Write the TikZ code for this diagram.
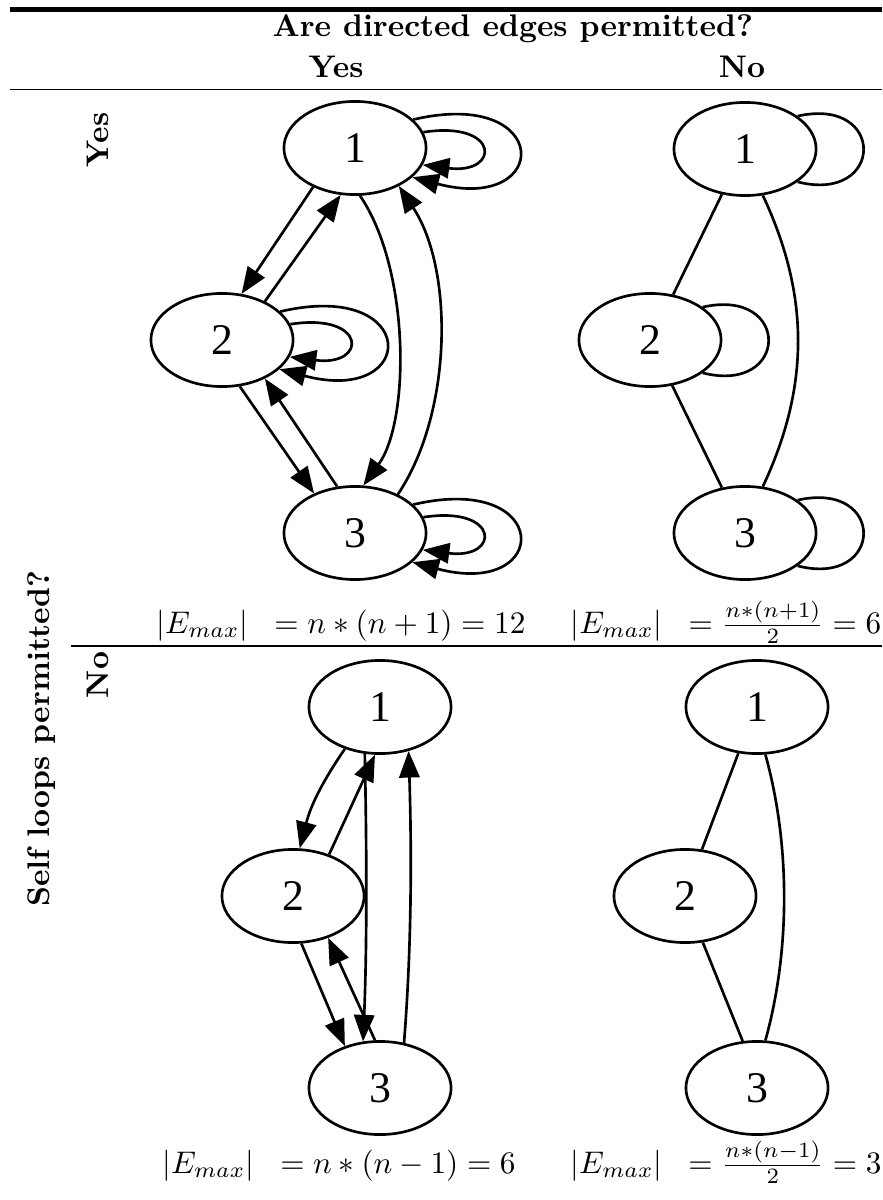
\documentclass[tikz,border=0pt]{standalone}
\usepackage{fontspec}
\newfontfamily\nodefont{Liberation Serif}
\usetikzlibrary{arrows.meta,shapes.geometric}
\begin{document}
\begin{tikzpicture}[x=0.32pt,y=-0.32pt,
  gnode/.style={ellipse,draw,line width=0.85pt,minimum width=45.5pt,minimum height=29.8pt,inner sep=0pt,font={\nodefont\fontsize{14}{16}\selectfont}},
  diedge/.style={line width=0.85pt,-{Triangle[length=8.5pt,width=6.5pt]}},
  unedge/.style={line width=0.85pt},
  hdr/.style={font=\bfseries,inner sep=0pt},
  formula/.style={anchor=base,inner sep=0pt}]
\useasboundingbox (0,0) rectangle (882,1200);
% table rules
\draw[line width=1.6pt] (10,10) -- (882,10);
\draw[line width=0.5pt] (10,89.5) -- (882,89.5);
\draw[line width=0.5pt] (71,646) -- (882,646);
% headers
\node[hdr,anchor=base west] (hq) at (272,37) {Are directed edges permitted?};
\node[hdr,anchor=base] (hy) at (336,78) {Yes};
\node[hdr,anchor=base] (hn) at (742,78) {No};
\node[hdr,rotate=90] (vy) at (98,140) {Yes};
\node[hdr,rotate=90] (vn) at (98,675) {No};
\node[hdr,rotate=90,anchor=base east] (vq) at (49,570) {Self loops permitted?};
% formulas
\node[formula] (f1) at (341,633) {$|E_{max}|\;\;= n*(n+1) = 12$};
\node[formula] (f2) at (726,633) {$|E_{max}|\;\;= \frac{n*(n+1)}{2} = 6$};
\node[formula] (f3) at (339,1173) {$|E_{max}|\;\;= n*(n-1) = 6$};
\node[formula] (f4) at (726,1173) {$|E_{max}|\;\;= \frac{n*(n-1)}{2} = 3$};
% top-left: directed with loops
\node[gnode] (a1) at (355,148) {1};
\node[gnode] (a2) at (222,340) {2};
\node[gnode] (a3) at (355,533) {3};
\draw[diedge] (a1.223) -- (a2.67);
\draw[diedge] (a2.42) -- (a1.253);
\draw[diedge] (a1.-84) .. controls +(50,73) and +(47,-65) .. (a3.80);
\draw[diedge] (a3.42) .. controls +(55,-82) and +(55,83) .. (a1.-41);
\draw[diedge] (a2.-69) -- (a3.136);
\draw[diedge] (a3.111) -- (a2.-42);
\foreach \n in {a1,a2,a3}{
  \draw[diedge] (\n.13) .. controls +(77,-12) and +(78,10) .. (\n.-14);
  \draw[diedge] (\n.26) .. controls +(140,-33) and +(140,37) .. (\n.-27);
}
% top-right: undirected with loops
\node[gnode] (b1) at (745,149) {1};
\node[gnode] (b2) at (650,340) {2};
\node[gnode] (b3) at (745,533) {3};
\draw[unedge] (b1.243) -- (b2.63);
\draw[unedge] (b2.-64) -- (b3.117);
\draw[unedge] (b1.-69) .. controls +(47,100) and +(47,-100) .. (b3.69);
\foreach \n in {b1,b2,b3}{
  \draw[unedge] (\n.32) .. controls +(89,-20) and +(87,22) .. (\n.-32);
}
% bottom-left: directed, no loops
\node[gnode] (c1) at (380,707) {1};
\node[gnode] (c2) at (293,896) {2};
\node[gnode] (c3) at (380,1088) {3};
\draw[diedge] (c1.230) to[bend right=10] (c2.82);
\draw[diedge] (c2.49) -- (c1.264);
\draw[diedge] (c1.252) .. controls +(2,97) and +(4,-95) .. (c3.110);
\draw[diedge] (c3.62) .. controls +(8,-100) and +(3,95) .. (c1.-57);
\draw[diedge] (c2.-80) -- (c3.130);
\draw[diedge] (c3.96) -- (c2.-50);
% bottom-right: undirected, no loops
\node[gnode] (d1) at (757,707) {1};
\node[gnode] (d2) at (685,896) {2};
\node[gnode] (d3) at (757,1088) {3};
\draw[unedge] (d1.248) -- (d2.70);
\draw[unedge] (d2.-69) -- (d3.107);
\draw[unedge] (d1.-80) .. controls +(25,90) and +(25,-90) .. (d3.80);
\end{tikzpicture}
\end{document}
